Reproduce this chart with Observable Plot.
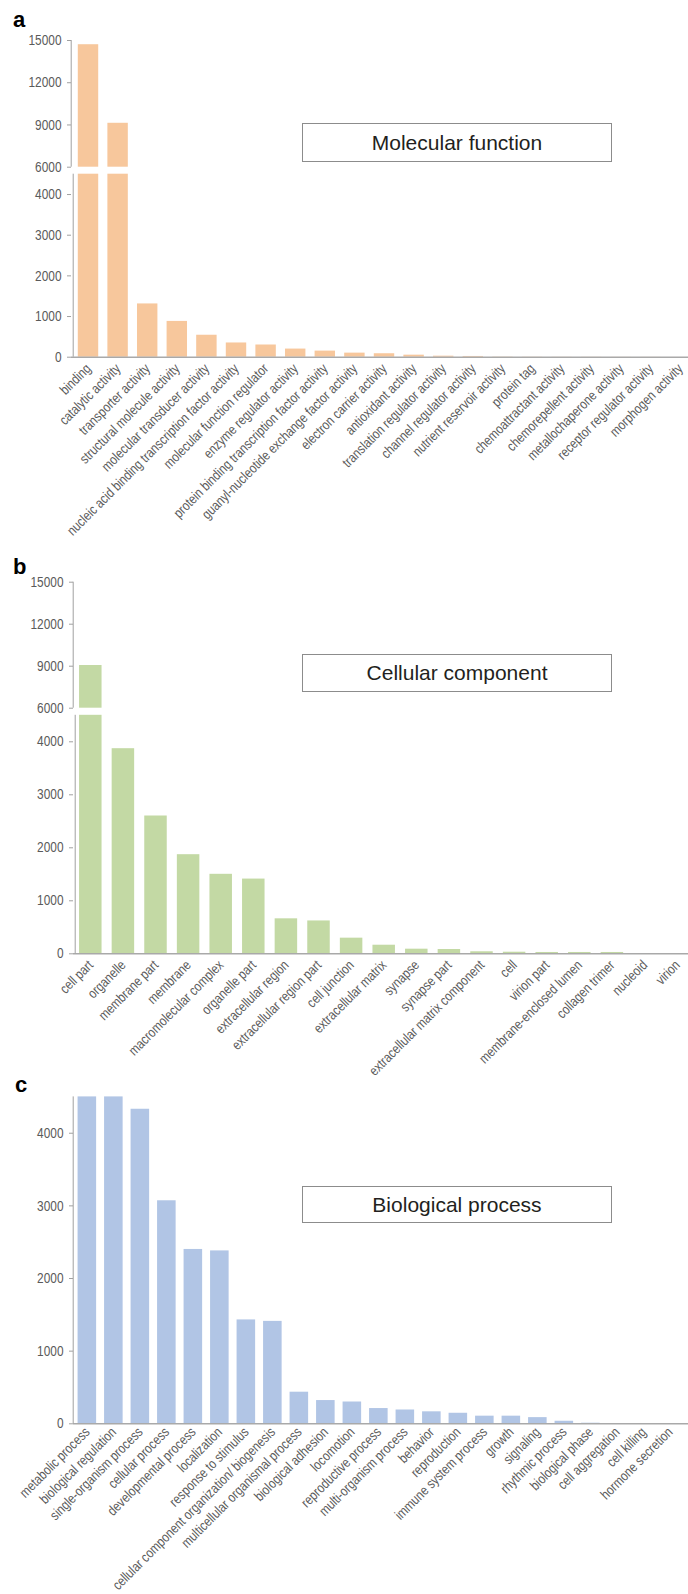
<!DOCTYPE html>
<html><head><meta charset="utf-8">
<script src="https://cdn.jsdelivr.net/npm/d3@7"></script>
<script src="https://cdn.jsdelivr.net/npm/@observablehq/plot@0.6"></script>
<style>
body{margin:0;background:#fff;}
#page{position:relative;width:688px;height:1594px;overflow:hidden;font-family:"Liberation Sans",Arial,sans-serif;background:#fff;}
.panel{position:absolute;left:0;}
.lbl{position:absolute;font-weight:bold;font-size:22px;line-height:1;color:#000;}
.box{position:absolute;border:1px solid #8c8c8c;box-sizing:border-box;display:flex;align-items:center;justify-content:center;font-size:21px;color:#231f20;background:#fff;}
</style></head><body><div id="page"></div>
<script>
// ---- Data ----
const mfCategories = ["binding","catalytic activity","transporter activity","structural molecule activity","molecular transducer activity","nucleic acid binding transcription factor activity","molecular function regulator","enzyme regulator activity","protein binding transcription factor activity","guanyl-nucleotide exchange factor activity","electron carrier activity","antioxidant activity","translation regulator activity","channel regulator activity","nutrient reservoir activity","protein tag","chemoattractant activity","chemorepellent activity","metallochaperone activity","receptor regulator activity","morphogen activity"];
const mfValues = [14700, 9120, 1310, 880, 540, 350, 300, 200, 150, 100, 85, 50, 25, 18, 6, 4, 3, 3, 2, 2, 1];

const ccCategories = ["cell part","organelle","membrane part","membrane","macromolecular complex","organelle part","extracellular region","extracellular region part","cell junction","extracellular matrix","synapse","synapse part","extracellular matrix component","cell","virion part","membrane-enclosed lumen","collagen trimer","nucleoid","virion"];
const ccValues = [9050, 3870, 2600, 1870, 1500, 1410, 660, 620, 295, 162, 87, 81, 38, 30, 25, 25, 25, 5, 3];

const bpCategories = ["metabolic process","biological regulation","single-organism process","cellular process","developmental process","localization","response to stimulus","cellular component organization/ biogenesis","multicellular organismal process","biological adhesion","locomotion","reproductive process","multi-organism process","behavior","reproduction","immune system process","growth","signaling","rhythmic process","biological phase","cell aggregation","cell killing","hormone secretion"];
const bpValues = [4500, 4500, 4330, 3070, 2400, 2380, 1430, 1410, 435, 320, 300, 210, 190, 165, 145, 105, 105, 85, 35, 8, 3, 2, 2];

const brokenTicks = [0, 1000, 2000, 3000, 4000, 6000, 9000, 12000, 15000];
const plainTicks = [0, 1000, 2000, 3000, 4000];

const panelTitles = ["Molecular function", "Cellular component", "Biological process"];
const panelLetters = ["a", "b", "c"];

// ---- Drawing ----
const font = "'Liberation Sans',Arial,sans-serif";
const narrowScale = 0.82; // emulate a narrow face
const page = document.getElementById("page");

function condense(svg) {
  svg.querySelectorAll("text").forEach(t => {
    const tr = t.getAttribute("transform");
    if (tr) t.setAttribute("transform", tr + ` scale(${narrowScale},1)`);
  });
}

function panel(o) {
  const n = o.cats.length;
  const half = o.barRatio / 2;
  const lowTop = o.breakLow ?? o.yMax;
  const lower = o.vals.map((v, i) => ({i, y1: 0, y2: Math.min(v, lowTop)}));
  const upper = o.breakHigh ? o.vals.map((v, i) => ({i, v})).filter(d => d.v > o.breakHigh).map(d => ({i: d.i, y1: o.breakHigh, y2: d.v})) : [];
  const yr = o.yRange.map(v => v - o.top);
  const marks = [
    Plot.rect(lower, {x1: d => d.i - half, x2: d => d.i + half, y1: "y1", y2: "y2", fill: o.color}),
    Plot.rect(upper, {x1: d => d.i - half, x2: d => d.i + half, y1: "y1", y2: "y2", fill: o.color}),
    Plot.ruleY([0], {stroke: "#a9a9a9", strokeWidth: 1.6}),
    Plot.axisY(o.ticks, {anchor: "left", tickSize: 4, tickPadding: 6, tickFormat: d => String(d), stroke: "#a0a0a0", fill: "#5a5a5a", fontSize: 14.5, fontFamily: font}),
    Plot.text(o.cats, {x: (d, i) => i, y: () => 0, text: d => d, rotate: -45, textAnchor: "end", dx: o.ldx, dy: o.ldy, fontSize: 14, fill: "#5a5a5a", fontFamily: font})
  ];
  if (o.breakHigh) {
    marks.push(Plot.ruleX([0], {x: () => -0.5, y1: () => o.breakHigh, y2: () => o.yMax, dx: o.axisUpperDx, stroke: "#a0a0a0"}));
    marks.push(Plot.ruleX([0], {x: () => -0.5, y1: () => 0, y2: () => o.breakLow, dx: o.axisLowerDx, stroke: "#a0a0a0"}));
  } else {
    marks.push(Plot.ruleX([0], {x: () => -0.5, y1: () => 0, y2: () => o.yMax, dx: o.axisLowerDx, stroke: "#a0a0a0"}));
  }
  const chart = Plot.plot({
    width: 688, height: o.height,
    marginLeft: o.axisPx, marginRight: 0, marginTop: 0, marginBottom: 0,
    style: {background: "transparent", overflow: "visible"},
    x: {type: "linear", domain: [-0.5, n - 0.5], range: [o.xStart, o.xStart + n * o.step], axis: null},
    y: {type: "linear", domain: o.yDomain, range: yr, axis: null},
    marks
  });
  condense(chart);
  chart.classList.add("panel");
  chart.style.top = o.top + "px";
  chart.style.position = "absolute";
  page.appendChild(chart);

  const l = document.createElement("div");
  l.className = "lbl"; l.textContent = o.letter;
  l.style.left = o.letterX + "px"; l.style.top = o.letterY + "px";
  page.appendChild(l);

  const b = document.createElement("div");
  b.className = "box"; b.textContent = o.title;
  Object.assign(b.style, {left: o.box[0] + "px", top: o.box[1] + "px", width: o.box[2] + "px", height: o.box[3] + "px"});
  page.appendChild(b);
}

panel({cats: mfCategories, vals: mfValues, color: "#f7c79c", top: 0, height: 540,
  yDomain: [0, 4500, 6000, 15000], yRange: [356.7, 173.7, 166.7, 40], breakLow: 4500, breakHigh: 6000, yMax: 15000,
  ticks: brokenTicks, xStart: 73.2, step: 29.6, barRatio: 0.69, axisPx: 71, axisUpperDx: -2.5, axisLowerDx: -0.5,
  ldx: 0, ldy: 9, letter: panelLetters[0], letterX: 13, letterY: 9, title: panelTitles[0], box: [302, 123, 310, 39]});

panel({cats: ccCategories, vals: ccValues, color: "#c3d9a4", top: 540, height: 530,
  yDomain: [0, 4500, 6000, 15000], yRange: [953.3, 714.8, 707.7, 581.7], breakLow: 4500, breakHigh: 6000, yMax: 15000,
  ticks: brokenTicks, xStart: 74, step: 32.6, barRatio: 0.69, axisPx: 73, axisUpperDx: -1.3, axisLowerDx: 0.7,
  ldx: 0, ldy: 9, letter: panelLetters[1], letterX: 13, letterY: 556, title: panelTitles[1], box: [302, 654, 310, 38]});

panel({cats: bpCategories, vals: bpValues, color: "#b1c5e5", top: 1070, height: 524,
  yDomain: [0, 4500], yRange: [1423.3, 1096.4], yMax: 4500,
  ticks: plainTicks, xStart: 73.6, step: 26.5, barRatio: 0.70, axisPx: 73, axisLowerDx: -0.9,
  ldx: 0, ldy: 6, letter: panelLetters[2], letterX: 15, letterY: 1074, title: panelTitles[2], box: [302, 1186, 310, 37]});
</script>
</body></html>
